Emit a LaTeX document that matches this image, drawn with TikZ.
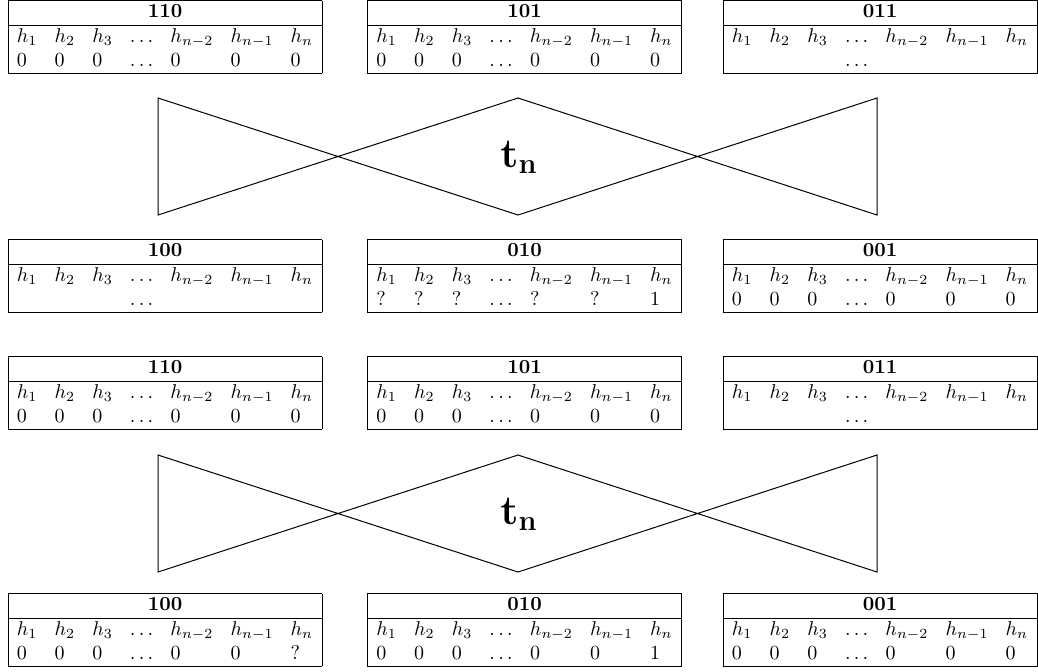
\documentclass[tikz,border=0pt]{standalone}
\usepackage{array}
\setlength{\tabcolsep}{4.3pt}
\tikzset{
  regtable/.style={inner sep=0pt, outer sep=0pt, anchor=center},
  bowline/.style={draw=black, line width=0.5pt, line join=miter},
  gatelabel/.style={inner sep=0pt, font=\huge}
}
% register table: title, then the value row
\newcommand{\regtab}[2]{%
  \begin{tabular}{|lllllll|}
    \hline
    \multicolumn{7}{|c|}{\textbf{#1}}\\
    \hline
    $h_1$ & $h_2$ & $h_3$ & $\dots$ & $h_{n-2}$ & $h_{n-1}$ & $h_n$\\
    #2\\
    \hline
  \end{tabular}}
\newcommand{\zerorow}{0 & 0 & 0 & $\dots$ & 0 & 0 & 0}
\newcommand{\dotsrow}{ & & & $\dots$ & & & }
\begin{document}
\begin{tikzpicture}[x=0.5pt,y=-0.5pt]
  \useasboundingbox (0,0) rectangle (1038,671);

  % first gate: input registers
  \node[regtable] (a110) at (165,37)   {\regtab{110}{\zerorow}};
  \node[regtable] (a101) at (524.5,37) {\regtab{101}{\zerorow}};
  \node[regtable] (a011) at (880,37)   {\regtab{011}{\dotsrow}};

  % first gate body
  \coordinate (g1tl) at (158,98);
  \coordinate (g1bl) at (158,215);
  \coordinate (g1tm) at (518,98);
  \coordinate (g1bm) at (518,215);
  \coordinate (g1tr) at (877,98);
  \coordinate (g1br) at (877,215);
  \draw[bowline] (g1tl) -- (g1bm) -- (g1tr) -- (g1br) -- (g1tm) -- (g1bl) -- cycle;
  \node[gatelabel] (g1) at (519,157) {$\mathbf{t_n}$};

  % first gate: output registers
  \node[regtable] (a100) at (165,276)   {\regtab{100}{\dotsrow}};
  \node[regtable] (a010) at (524.5,276) {\regtab{010}{? & ? & ? & $\dots$ & ? & ? & 1}};
  \node[regtable] (a001) at (880,276)   {\regtab{001}{\zerorow}};

  % second gate: input registers
  \node[regtable] (b110) at (165,393)   {\regtab{110}{\zerorow}};
  \node[regtable] (b101) at (524.5,393) {\regtab{101}{\zerorow}};
  \node[regtable] (b011) at (880,393)   {\regtab{011}{\dotsrow}};

  % second gate body
  \coordinate (g2tl) at (158,455);
  \coordinate (g2bl) at (158,572);
  \coordinate (g2tm) at (518,455);
  \coordinate (g2bm) at (518,572);
  \coordinate (g2tr) at (877,455);
  \coordinate (g2br) at (877,572);
  \draw[bowline] (g2tl) -- (g2bm) -- (g2tr) -- (g2br) -- (g2tm) -- (g2bl) -- cycle;
  \node[gatelabel] (g2) at (519,514) {$\mathbf{t_n}$};

  % second gate: output registers
  \node[regtable] (b100) at (165,630)   {\regtab{100}{0 & 0 & 0 & $\dots$ & 0 & 0 & ?}};
  \node[regtable] (b010) at (524.5,630) {\regtab{010}{0 & 0 & 0 & $\dots$ & 0 & 0 & 1}};
  \node[regtable] (b001) at (880,630)   {\regtab{001}{\zerorow}};
\end{tikzpicture}
\end{document}
